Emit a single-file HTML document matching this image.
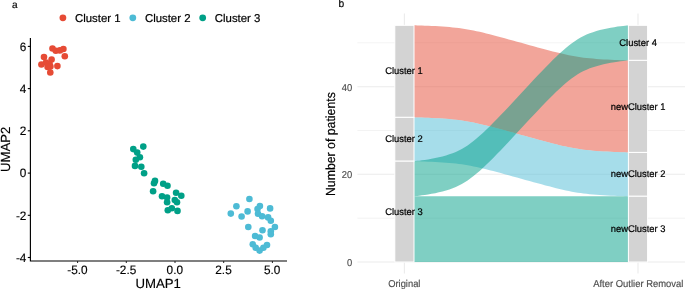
<!DOCTYPE html><html><head><meta charset="utf-8"><title>Figure</title><style>html,body{margin:0;padding:0;background:#fff}svg{display:block}text{font-family:"Liberation Sans",Arial,sans-serif;text-rendering:geometricPrecision}</style></head><body>
<svg width="685" height="289" viewBox="0 0 685 289">
<rect width="685" height="289" fill="#fff"/>
<text transform="translate(11.90 7.75)" font-size="10" text-anchor="start" fill="#000" stroke="#000" stroke-width="0.15">a</text>
<circle cx="62.9" cy="17.8" r="3.4" fill="#E64B35"/>
<text transform="translate(75.00 21.90)" font-size="11.4" text-anchor="start" fill="#000" stroke="#000" stroke-width="0.2">Cluster 1</text>
<circle cx="132.8" cy="17.8" r="3.4" fill="#4DBBD5"/>
<text transform="translate(144.90 21.90)" font-size="11.4" text-anchor="start" fill="#000" stroke="#000" stroke-width="0.2">Cluster 2</text>
<circle cx="202.7" cy="17.8" r="3.4" fill="#00A087"/>
<text transform="translate(214.80 21.90)" font-size="11.4" text-anchor="start" fill="#000" stroke="#000" stroke-width="0.2">Cluster 3</text>
<path d="M30.4 38 V261 H287" fill="none" stroke="#000" stroke-width="1.15"/>
<path d="M27.8 46.4 H30.4" stroke="#000" stroke-width="1.1"/>
<text transform="translate(26.40 50.70) scale(1 1.03)" font-size="11.8" text-anchor="end" fill="#000" stroke="#000" stroke-width="0.15">6</text>
<path d="M27.8 88.6 H30.4" stroke="#000" stroke-width="1.1"/>
<text transform="translate(26.40 92.90) scale(1 1.03)" font-size="11.8" text-anchor="end" fill="#000" stroke="#000" stroke-width="0.15">4</text>
<path d="M27.8 130.8 H30.4" stroke="#000" stroke-width="1.1"/>
<text transform="translate(26.40 135.10) scale(1 1.03)" font-size="11.8" text-anchor="end" fill="#000" stroke="#000" stroke-width="0.15">2</text>
<path d="M27.8 173.1 H30.4" stroke="#000" stroke-width="1.1"/>
<text transform="translate(26.40 177.40) scale(1 1.03)" font-size="11.8" text-anchor="end" fill="#000" stroke="#000" stroke-width="0.15">0</text>
<path d="M27.8 215.3 H30.4" stroke="#000" stroke-width="1.1"/>
<text transform="translate(26.40 219.60) scale(1 1.03)" font-size="11.8" text-anchor="end" fill="#000" stroke="#000" stroke-width="0.15">-2</text>
<path d="M27.8 257.5 H30.4" stroke="#000" stroke-width="1.1"/>
<text transform="translate(26.40 261.80) scale(1 1.03)" font-size="11.8" text-anchor="end" fill="#000" stroke="#000" stroke-width="0.15">-4</text>
<path d="M77.6 261 V263" stroke="#222" stroke-width="1"/>
<text transform="translate(77.40 274.00) scale(1 1.03)" font-size="11.8" text-anchor="middle" fill="#000" stroke="#000" stroke-width="0.15">-5.0</text>
<path d="M126.3 261 V263" stroke="#222" stroke-width="1"/>
<text transform="translate(126.10 274.00) scale(1 1.03)" font-size="11.8" text-anchor="middle" fill="#000" stroke="#000" stroke-width="0.15">-2.5</text>
<path d="M175.0 261 V263" stroke="#222" stroke-width="1"/>
<text transform="translate(174.80 274.00) scale(1 1.03)" font-size="11.8" text-anchor="middle" fill="#000" stroke="#000" stroke-width="0.15">0.0</text>
<path d="M223.7 261 V263" stroke="#222" stroke-width="1"/>
<text transform="translate(223.50 274.00) scale(1 1.03)" font-size="11.8" text-anchor="middle" fill="#000" stroke="#000" stroke-width="0.15">2.5</text>
<path d="M272.4 261 V263" stroke="#222" stroke-width="1"/>
<text transform="translate(272.20 274.00) scale(1 1.03)" font-size="11.8" text-anchor="middle" fill="#000" stroke="#000" stroke-width="0.15">5.0</text>
<text transform="translate(158.20 288.10)" font-size="13.2" text-anchor="middle" fill="#000" stroke="#000" stroke-width="0.15">UMAP1</text>
<text transform="translate(10.00 149.40) rotate(-90)" font-size="13.2" text-anchor="middle" fill="#000" stroke="#000" stroke-width="0.15">UMAP2</text>
<g fill="#E64B35"><circle cx="52.5" cy="48.5" r="3.3"/><circle cx="55.8" cy="50.8" r="3.3"/><circle cx="59.9" cy="50.4" r="3.3"/><circle cx="63.4" cy="49.0" r="3.3"/><circle cx="64.8" cy="56.2" r="3.3"/><circle cx="44.0" cy="57.0" r="3.3"/><circle cx="51.6" cy="59.6" r="3.3"/><circle cx="41.4" cy="64.5" r="3.3"/><circle cx="46.0" cy="62.6" r="3.3"/><circle cx="49.6" cy="64.2" r="3.3"/><circle cx="47.6" cy="67.0" r="3.3"/><circle cx="50.4" cy="66.6" r="3.3"/><circle cx="57.4" cy="66.1" r="3.3"/><circle cx="50.3" cy="72.5" r="3.3"/></g>
<g fill="#00A087"><circle cx="143.3" cy="146.6" r="3.3"/><circle cx="133.3" cy="149.1" r="3.3"/><circle cx="137.2" cy="152.6" r="3.3"/><circle cx="139.9" cy="157.3" r="3.3"/><circle cx="135.8" cy="159.8" r="3.3"/><circle cx="135.0" cy="165.9" r="3.3"/><circle cx="141.3" cy="166.8" r="3.3"/><circle cx="144.1" cy="173.3" r="3.3"/><circle cx="155.0" cy="180.9" r="3.3"/><circle cx="154.0" cy="183.2" r="3.3"/><circle cx="163.2" cy="183.8" r="3.3"/><circle cx="167.5" cy="185.8" r="3.3"/><circle cx="153.1" cy="191.3" r="3.3"/><circle cx="162.0" cy="196.2" r="3.3"/><circle cx="167.1" cy="197.6" r="3.3"/><circle cx="167.1" cy="202.2" r="3.3"/><circle cx="176.1" cy="192.8" r="3.3"/><circle cx="181.3" cy="195.7" r="3.3"/><circle cx="174.8" cy="200.1" r="3.3"/><circle cx="177.0" cy="202.2" r="3.3"/><circle cx="171.8" cy="208.3" r="3.3"/><circle cx="167.8" cy="210.3" r="3.3"/><circle cx="177.5" cy="210.9" r="3.3"/></g>
<g fill="#4DBBD5"><circle cx="249.4" cy="199.0" r="3.3"/><circle cx="236.4" cy="206.2" r="3.3"/><circle cx="230.8" cy="213.6" r="3.3"/><circle cx="241.6" cy="216.5" r="3.3"/><circle cx="247.6" cy="211.4" r="3.3"/><circle cx="259.9" cy="206.1" r="3.3"/><circle cx="257.5" cy="209.1" r="3.3"/><circle cx="270.1" cy="208.4" r="3.3"/><circle cx="258.0" cy="213.7" r="3.3"/><circle cx="262.1" cy="216.3" r="3.3"/><circle cx="268.1" cy="217.4" r="3.3"/><circle cx="270.8" cy="220.8" r="3.3"/><circle cx="248.3" cy="227.0" r="3.3"/><circle cx="274.9" cy="227.0" r="3.3"/><circle cx="262.5" cy="230.3" r="3.3"/><circle cx="270.8" cy="231.2" r="3.3"/><circle cx="270.8" cy="234.2" r="3.3"/><circle cx="255.1" cy="236.0" r="3.3"/><circle cx="259.6" cy="237.5" r="3.3"/><circle cx="252.8" cy="244.3" r="3.3"/><circle cx="255.7" cy="247.7" r="3.3"/><circle cx="259.6" cy="250.6" r="3.3"/><circle cx="263.4" cy="247.7" r="3.3"/><circle cx="267.0" cy="245.0" r="3.3"/></g>
<text transform="translate(338.60 7.45) scale(1 1.03)" font-size="10.2" text-anchor="start" fill="#000" stroke="#000" stroke-width="0.15">b</text>
<path d="M357.4 262.0 H685" stroke="#EBEBEB" stroke-width="1.1"/>
<text transform="translate(352.30 265.90) scale(1 1.06)" font-size="9.4" text-anchor="end" fill="#4D4D4D" stroke="#4D4D4D" stroke-width="0.15">0</text>
<path d="M357.4 174.3 H685" stroke="#EBEBEB" stroke-width="1.1"/>
<text transform="translate(352.30 178.24) scale(1 1.06)" font-size="9.4" text-anchor="end" fill="#4D4D4D" stroke="#4D4D4D" stroke-width="0.15">20</text>
<path d="M357.4 86.7 H685" stroke="#EBEBEB" stroke-width="1.1"/>
<text transform="translate(352.30 90.58) scale(1 1.06)" font-size="9.4" text-anchor="end" fill="#4D4D4D" stroke="#4D4D4D" stroke-width="0.15">40</text>
<path d="M357.4 218.2 H685" stroke="#EBEBEB" stroke-width="0.6"/>
<path d="M357.4 130.5 H685" stroke="#EBEBEB" stroke-width="0.6"/>
<path d="M357.4 42.8 H685" stroke="#EBEBEB" stroke-width="0.6"/>
<path d="M404.4 13.6 V273.5" stroke="#EBEBEB" stroke-width="1.1"/>
<path d="M638.0 13.6 V273.5" stroke="#EBEBEB" stroke-width="1.1"/>
<text transform="translate(335.35 144.10) rotate(-90) scale(1 1.07)" font-size="12.3" text-anchor="middle" fill="#000" stroke="#000" stroke-width="0.15">Number of patients</text>
<text transform="translate(404.30 286.70) scale(1 1.06)" font-size="9.4" text-anchor="middle" fill="#4D4D4D" stroke="#4D4D4D" stroke-width="0.15">Original</text>
<text transform="translate(638.30 286.70) scale(1 1.06)" font-size="9.45" text-anchor="middle" fill="#4D4D4D" stroke="#4D4D4D" stroke-width="0.15">After Outlier Removal</text>
<path d="M476.53 123.20 L479.65 123.90 L482.87 124.66 L486.20 125.47 L489.66 126.33 L493.24 127.26 L496.95 128.23 L500.78 129.26 L504.72 130.33 L508.75 131.44 L512.86 132.57 L517.02 133.73 L521.20 134.89 L525.38 136.06 L529.54 137.21 L533.65 138.35 L537.68 139.46 L541.62 140.53 L545.45 141.55 L549.16 142.53 L552.74 143.45 L556.20 144.32 L559.53 145.13 L562.75 145.88 L565.87 146.58 L568.90 147.22 L571.86 147.81 L574.78 148.34 L577.67 148.83 L580.59 149.27 L583.55 149.67 L586.59 150.03 L589.73 150.36 L593.00 150.66 L596.39 150.94 L599.90 151.19 L603.50 151.42 L607.15 151.62 L610.78 151.80 L614.29 151.96 L617.59 152.09 L620.55 152.20 L623.08 152.28 L625.12 152.34 L626.62 152.38 L627.61 152.41 L628.15 152.42 L628.37 152.42 L628.40 152.43 L628.40 60.38 L628.37 60.38 L628.15 60.38 L627.61 60.36 L626.62 60.34 L625.12 60.30 L623.08 60.24 L620.55 60.15 L617.59 60.05 L614.29 59.92 L610.78 59.76 L607.15 59.58 L603.50 59.38 L599.90 59.15 L596.39 58.90 L593.00 58.62 L589.73 58.32 L586.59 57.99 L583.55 57.63 L580.59 57.23 L577.67 56.79 L574.78 56.30 L571.86 55.77 L568.90 55.18 L565.87 54.54 L562.75 53.84 L559.53 53.09 L556.20 52.28 L552.74 51.41 L549.16 50.49 L545.45 49.51 L541.62 48.48 L537.68 47.41 L533.65 46.31 L529.54 45.17 L525.38 44.02 L521.20 42.85 L517.02 41.68 L512.86 40.53 L508.75 39.39 L504.72 38.29 L500.78 37.22 L496.95 36.19 L493.24 35.21 L489.66 34.29 L486.20 33.42 L482.87 32.61 L479.65 31.86 L476.53 31.16 L473.50 30.52 L470.54 29.93 L467.62 29.40 L464.73 28.91 L461.81 28.47 L458.85 28.07 L455.81 27.71 L452.67 27.38 L449.40 27.08 L446.01 26.80 L442.50 26.55 L438.90 26.32 L435.25 26.12 L431.62 25.94 L428.11 25.78 L424.81 25.65 L421.85 25.55 L419.32 25.46 L417.28 25.40 L415.78 25.36 L414.79 25.34 L414.25 25.32 L414.03 25.32 L414.00 25.32 L414.00 117.36 L414.03 117.36 L414.25 117.37 L414.79 117.38 L415.78 117.40 L417.28 117.44 L419.32 117.51 L421.85 117.59 L424.81 117.70 L428.11 117.83 L431.62 117.98 L435.25 118.16 L438.90 118.37 L442.50 118.60 L446.01 118.85 L449.40 119.12 L452.67 119.42 L455.81 119.75 L458.85 120.12 L461.81 120.52 L464.73 120.96 L467.62 121.44 L470.54 121.98 L473.50 122.56Z" fill="#E64B35" fill-opacity="0.5"/>
<path d="M476.53 167.03 L479.65 167.73 L482.87 168.49 L486.20 169.30 L489.66 170.16 L493.24 171.09 L496.95 172.06 L500.78 173.09 L504.72 174.16 L508.75 175.27 L512.86 176.40 L517.02 177.56 L521.20 178.72 L525.38 179.89 L529.54 181.04 L533.65 182.18 L537.68 183.29 L541.62 184.36 L545.45 185.38 L549.16 186.36 L552.74 187.28 L556.20 188.15 L559.53 188.96 L562.75 189.71 L565.87 190.41 L568.90 191.05 L571.86 191.64 L574.78 192.17 L577.67 192.66 L580.59 193.10 L583.55 193.50 L586.59 193.86 L589.73 194.19 L593.00 194.49 L596.39 194.77 L599.90 195.02 L603.50 195.25 L607.15 195.45 L610.78 195.63 L614.29 195.79 L617.59 195.92 L620.55 196.03 L623.08 196.11 L625.12 196.17 L626.62 196.21 L627.61 196.24 L628.15 196.25 L628.37 196.25 L628.40 196.25 L628.40 152.43 L628.37 152.42 L628.15 152.42 L627.61 152.41 L626.62 152.38 L625.12 152.34 L623.08 152.28 L620.55 152.20 L617.59 152.09 L614.29 151.96 L610.78 151.80 L607.15 151.62 L603.50 151.42 L599.90 151.19 L596.39 150.94 L593.00 150.66 L589.73 150.36 L586.59 150.03 L583.55 149.67 L580.59 149.27 L577.67 148.83 L574.78 148.34 L571.86 147.81 L568.90 147.22 L565.87 146.58 L562.75 145.88 L559.53 145.13 L556.20 144.32 L552.74 143.45 L549.16 142.53 L545.45 141.55 L541.62 140.53 L537.68 139.46 L533.65 138.35 L529.54 137.21 L525.38 136.06 L521.20 134.89 L517.02 133.73 L512.86 132.57 L508.75 131.44 L504.72 130.33 L500.78 129.26 L496.95 128.23 L493.24 127.26 L489.66 126.33 L486.20 125.47 L482.87 124.66 L479.65 123.90 L476.53 123.20 L473.50 122.56 L470.54 121.98 L467.62 121.44 L464.73 120.96 L461.81 120.52 L458.85 120.12 L455.81 119.75 L452.67 119.42 L449.40 119.12 L446.01 118.85 L442.50 118.60 L438.90 118.37 L435.25 118.16 L431.62 117.98 L428.11 117.83 L424.81 117.70 L421.85 117.59 L419.32 117.51 L417.28 117.44 L415.78 117.40 L414.79 117.38 L414.25 117.37 L414.03 117.36 L414.00 117.36 L414.00 161.19 L414.03 161.19 L414.25 161.20 L414.79 161.21 L415.78 161.23 L417.28 161.27 L419.32 161.34 L421.85 161.42 L424.81 161.53 L428.11 161.66 L431.62 161.81 L435.25 161.99 L438.90 162.20 L442.50 162.43 L446.01 162.68 L449.40 162.95 L452.67 163.25 L455.81 163.58 L458.85 163.95 L461.81 164.35 L464.73 164.79 L467.62 165.27 L470.54 165.81 L473.50 166.39Z" fill="#4DBBD5" fill-opacity="0.5"/>
<path d="M476.53 262.00 L479.65 262.00 L482.87 262.00 L486.20 262.00 L489.66 262.00 L493.24 262.00 L496.95 262.00 L500.78 262.00 L504.72 262.00 L508.75 262.00 L512.86 262.00 L517.02 262.00 L521.20 262.00 L525.38 262.00 L529.54 262.00 L533.65 262.00 L537.68 262.00 L541.62 262.00 L545.45 262.00 L549.16 262.00 L552.74 262.00 L556.20 262.00 L559.53 262.00 L562.75 262.00 L565.87 262.00 L568.90 262.00 L571.86 262.00 L574.78 262.00 L577.67 262.00 L580.59 262.00 L583.55 262.00 L586.59 262.00 L589.73 262.00 L593.00 262.00 L596.39 262.00 L599.90 262.00 L603.50 262.00 L607.15 262.00 L610.78 262.00 L614.29 262.00 L617.59 262.00 L620.55 262.00 L623.08 262.00 L625.12 262.00 L626.62 262.00 L627.61 262.00 L628.15 262.00 L628.37 262.00 L628.40 262.00 L628.40 196.25 L628.37 196.25 L628.15 196.25 L627.61 196.25 L626.62 196.25 L625.12 196.25 L623.08 196.25 L620.55 196.25 L617.59 196.25 L614.29 196.25 L610.78 196.25 L607.15 196.25 L603.50 196.26 L599.90 196.26 L596.39 196.25 L593.00 196.25 L589.73 196.26 L586.59 196.25 L583.55 196.25 L580.59 196.25 L577.67 196.26 L574.78 196.25 L571.86 196.25 L568.90 196.25 L565.87 196.25 L562.75 196.25 L559.53 196.25 L556.20 196.26 L552.74 196.25 L549.16 196.25 L545.45 196.25 L541.62 196.26 L537.68 196.25 L533.65 196.25 L529.54 196.25 L525.38 196.25 L521.20 196.26 L517.02 196.25 L512.86 196.25 L508.75 196.25 L504.72 196.25 L500.78 196.25 L496.95 196.25 L493.24 196.25 L489.66 196.26 L486.20 196.25 L482.87 196.25 L479.65 196.25 L476.53 196.25 L473.50 196.25 L470.54 196.25 L467.62 196.25 L464.73 196.25 L461.81 196.25 L458.85 196.25 L455.81 196.26 L452.67 196.25 L449.40 196.25 L446.01 196.25 L442.50 196.26 L438.90 196.25 L435.25 196.25 L431.62 196.26 L428.11 196.25 L424.81 196.25 L421.85 196.25 L419.32 196.25 L417.28 196.25 L415.78 196.25 L414.79 196.26 L414.25 196.25 L414.03 196.26 L414.00 196.25 L414.00 262.00 L414.03 262.00 L414.25 262.00 L414.79 262.00 L415.78 262.00 L417.28 262.00 L419.32 262.00 L421.85 262.00 L424.81 262.00 L428.11 262.00 L431.62 262.00 L435.25 262.00 L438.90 262.00 L442.50 262.00 L446.01 262.00 L449.40 262.00 L452.67 262.00 L455.81 262.00 L458.85 262.00 L461.81 262.00 L464.73 262.00 L467.62 262.00 L470.54 262.00 L473.50 262.00Z" fill="#00A087" fill-opacity="0.5"/>
<path d="M476.53 173.61 L479.65 170.91 L482.87 167.99 L486.20 164.85 L489.66 161.49 L493.24 157.91 L496.95 154.12 L500.78 150.15 L504.72 146.00 L508.75 141.71 L512.86 137.31 L517.02 132.83 L521.20 128.32 L525.38 123.80 L529.54 119.32 L533.65 114.92 L537.68 110.64 L541.62 106.49 L545.45 102.51 L549.16 98.73 L552.74 95.15 L556.20 91.79 L559.53 88.65 L562.75 85.73 L565.87 83.03 L568.90 80.54 L571.86 78.26 L574.78 76.19 L577.67 74.32 L580.59 72.61 L583.55 71.06 L586.59 69.66 L589.73 68.37 L593.00 67.20 L596.39 66.14 L599.90 65.16 L603.50 64.28 L607.15 63.49 L610.78 62.80 L614.29 62.19 L617.59 61.68 L620.55 61.27 L623.08 60.94 L625.12 60.71 L626.62 60.55 L627.61 60.45 L628.15 60.40 L628.37 60.38 L628.40 60.38 L628.40 25.32 L628.37 25.32 L628.15 25.34 L627.61 25.39 L626.62 25.48 L625.12 25.64 L623.08 25.88 L620.55 26.20 L617.59 26.62 L614.29 27.13 L610.78 27.73 L607.15 28.43 L603.50 29.22 L599.90 30.10 L596.39 31.07 L593.00 32.14 L589.73 33.31 L586.59 34.59 L583.55 36.00 L580.59 37.55 L577.67 39.25 L574.78 41.13 L571.86 43.20 L568.90 45.47 L565.87 47.96 L562.75 50.66 L559.53 53.58 L556.20 56.72 L552.74 60.09 L549.16 63.66 L545.45 67.45 L541.62 71.43 L537.68 75.57 L533.65 79.86 L529.54 84.26 L525.38 88.74 L521.20 93.25 L517.02 97.77 L512.86 102.25 L508.75 106.65 L504.72 110.94 L500.78 115.08 L496.95 119.06 L493.24 122.84 L489.66 126.42 L486.20 129.79 L482.87 132.93 L479.65 135.84 L476.53 138.55 L473.50 141.03 L470.54 143.31 L467.62 145.38 L464.73 147.26 L461.81 148.96 L458.85 150.51 L455.81 151.92 L452.67 153.20 L449.40 154.37 L446.01 155.44 L442.50 156.41 L438.90 157.29 L435.25 158.08 L431.62 158.78 L428.11 159.38 L424.81 159.89 L421.85 160.31 L419.32 160.63 L417.28 160.87 L415.78 161.03 L414.79 161.12 L414.25 161.17 L414.03 161.19 L414.00 161.19 L414.00 196.25 L414.03 196.25 L414.25 196.23 L414.79 196.19 L415.78 196.09 L417.28 195.93 L419.32 195.69 L421.85 195.37 L424.81 194.96 L428.11 194.45 L431.62 193.84 L435.25 193.14 L438.90 192.35 L442.50 191.47 L446.01 190.50 L449.40 189.43 L452.67 188.26 L455.81 186.98 L458.85 185.57 L461.81 184.02 L464.73 182.32 L467.62 180.44 L470.54 178.37 L473.50 176.10Z" fill="#00A087" fill-opacity="0.5"/>
<rect x="394.8" y="25.32" width="19.2" height="92.04" fill="#D3D3D3" stroke="#fff" stroke-width="1"/>
<rect x="394.8" y="117.36" width="19.2" height="43.83" fill="#D3D3D3" stroke="#fff" stroke-width="1"/>
<rect x="394.8" y="161.19" width="19.2" height="100.81" fill="#D3D3D3" stroke="#fff" stroke-width="1"/>
<text transform="translate(403.90 74.49) scale(1 1.03)" font-size="9.4" text-anchor="middle" fill="#000" stroke="#000" stroke-width="0.2">Cluster 1</text>
<text transform="translate(403.90 142.43) scale(1 1.03)" font-size="9.4" text-anchor="middle" fill="#000" stroke="#000" stroke-width="0.2">Cluster 2</text>
<text transform="translate(403.90 214.75) scale(1 1.03)" font-size="9.4" text-anchor="middle" fill="#000" stroke="#000" stroke-width="0.2">Cluster 3</text>
<rect x="628.4" y="25.32" width="19.2" height="35.06" fill="#D3D3D3" stroke="#fff" stroke-width="1"/>
<rect x="628.4" y="60.38" width="19.2" height="92.04" fill="#D3D3D3" stroke="#fff" stroke-width="1"/>
<rect x="628.4" y="152.43" width="19.2" height="43.83" fill="#D3D3D3" stroke="#fff" stroke-width="1"/>
<rect x="628.4" y="196.25" width="19.2" height="65.75" fill="#D3D3D3" stroke="#fff" stroke-width="1"/>
<text transform="translate(638.10 46.00) scale(1 1.03)" font-size="9.4" text-anchor="middle" fill="#000" stroke="#000" stroke-width="0.2">Cluster 4</text>
<text transform="translate(638.10 109.55) scale(1 1.03)" font-size="9.4" text-anchor="middle" fill="#000" stroke="#000" stroke-width="0.2">newCluster 1</text>
<text transform="translate(638.10 177.49) scale(1 1.03)" font-size="9.4" text-anchor="middle" fill="#000" stroke="#000" stroke-width="0.2">newCluster 2</text>
<text transform="translate(638.10 232.28) scale(1 1.03)" font-size="9.4" text-anchor="middle" fill="#000" stroke="#000" stroke-width="0.2">newCluster 3</text>
</svg></body></html>
